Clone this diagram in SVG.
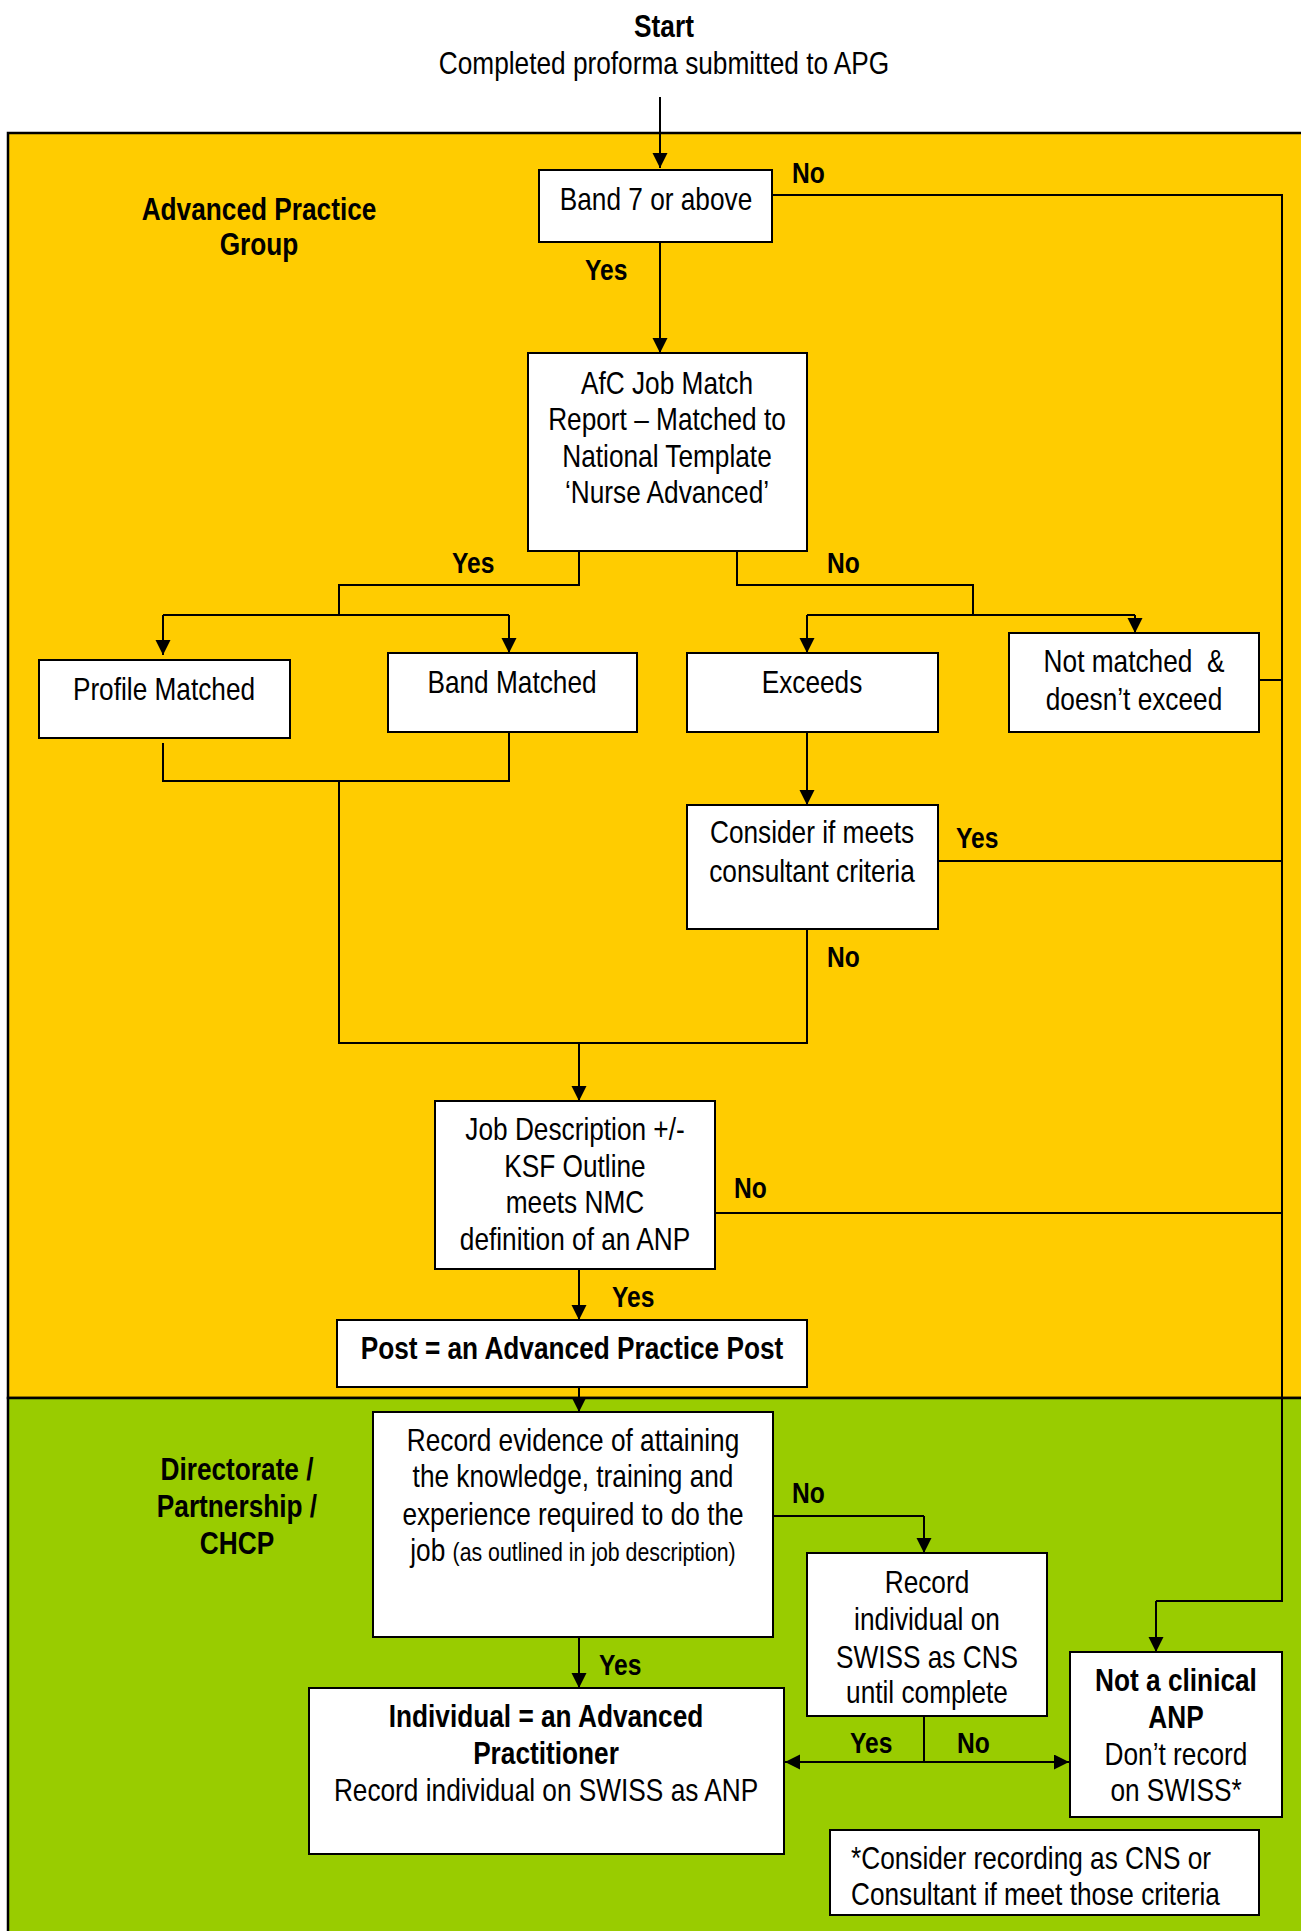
<svg xmlns="http://www.w3.org/2000/svg" width="1301" height="1931" viewBox="0 0 1301 1931">
<style>
text{font-family:"Liberation Sans",Arial,sans-serif;font-size:32px;fill:#000}
.c{text-anchor:middle}
.b{font-weight:bold}
.lbl{font-weight:bold;font-size:30px}
.sm{font-size:26px}
.box{fill:#fff;stroke:#000;stroke-width:2}
.ln{fill:none;stroke:#000;stroke-width:2}
.ar{fill:none;stroke:#000;stroke-width:2;marker-end:url(#ah)}
.pre{white-space:pre}
</style>
<defs>
<marker id="ah" markerUnits="userSpaceOnUse" markerWidth="16" markerHeight="16" refX="15" refY="7.5" orient="auto">
<path d="M0,0 L15,7.5 L0,15 z" fill="#000"/>
</marker>
</defs>
<rect width="1301" height="1931" fill="#fff"/>
<g id="panels">
<rect x="8" y="133" width="1320" height="1265" fill="#FFCC00" stroke="#000" stroke-width="2.5"/>
<rect x="8" y="1398" width="1320" height="600" fill="#99CC00" stroke="#000" stroke-width="2.5"/>
<text class="c b" transform="translate(259 220) scale(.82 1)">Advanced Practice</text>
<text class="c b" transform="translate(259 255) scale(.82 1)">Group</text>
<text class="c b" transform="translate(237 1480) scale(.82 1)">Directorate /</text>
<text class="c b" transform="translate(237 1517) scale(.82 1)">Partnership /</text>
<text class="c b" transform="translate(237 1554) scale(.82 1)">CHCP</text>
</g>
<g id="start">
<text class="c b" transform="translate(664 37) scale(.82 1)">Start</text>
<text class="c" transform="translate(664 74) scale(.82 1)">Completed proforma submitted to APG</text>
</g>
<g id="connectors">
<path class="ar" d="M660,97 V168"/>
<path class="ln" d="M772,195 H1282 V1601 H1156"/>
<path class="ar" d="M1156,1601 V1652"/>
<path class="ar" d="M660,242 V353"/>
<path class="ln" d="M579,551 V585 H339 V615 M163,615 H509"/>
<path class="ar" d="M163,615 V655"/>
<path class="ar" d="M509,615 V653"/>
<path class="ln" d="M737,551 V585 H973 V615 M807,615 H1135"/>
<path class="ar" d="M807,615 V653"/>
<path class="ar" d="M1135,615 V633"/>
<path class="ln" d="M1259,680 H1282"/>
<path class="ln" d="M163,743 V781 H509 V732 M339,781 V1043 H807 V929"/>
<path class="ar" d="M807,732 V805"/>
<path class="ln" d="M938,861 H1282"/>
<path class="ar" d="M579,1043 V1101"/>
<path class="ln" d="M715,1213 H1282"/>
<path class="ar" d="M579,1269 V1320"/>
<path class="ar" d="M579,1387 V1412"/>
<path class="ln" d="M773,1516 H924"/>
<path class="ar" d="M924,1516 V1553"/>
<path class="ar" d="M579,1637 V1688"/>
<path class="ln" d="M924,1716 V1762"/>
<path class="ar" d="M924,1762 H785"/>
<path class="ar" d="M924,1762 H1069"/>
<text class="lbl" transform="translate(792 183) scale(.82 1)">No</text>
<text class="lbl" transform="translate(585 280) scale(.82 1)">Yes</text>
<text class="lbl" transform="translate(452 573) scale(.82 1)">Yes</text>
<text class="lbl" transform="translate(827 573) scale(.82 1)">No</text>
<text class="lbl" transform="translate(956 848) scale(.82 1)">Yes</text>
<text class="lbl" transform="translate(827 967) scale(.82 1)">No</text>
<text class="lbl" transform="translate(734 1198) scale(.82 1)">No</text>
<text class="lbl" transform="translate(612 1307) scale(.82 1)">Yes</text>
<text class="lbl" transform="translate(792 1503) scale(.82 1)">No</text>
<text class="lbl" transform="translate(599 1675) scale(.82 1)">Yes</text>
<text class="lbl" transform="translate(850 1753) scale(.82 1)">Yes</text>
<text class="lbl" transform="translate(957 1753) scale(.82 1)">No</text>
</g>
<g id="band7">
<rect class="box" x="539" y="170" width="233" height="72"/>
<text class="c" transform="translate(656 210) scale(.82 1)">Band 7 or above</text>
</g>
<g id="afc">
<rect class="box" x="528" y="353" width="279" height="198"/>
<text class="c" transform="translate(667 394) scale(.82 1)">AfC Job Match</text>
<text class="c" transform="translate(667 430) scale(.82 1)">Report – Matched to</text>
<text class="c" transform="translate(667 467) scale(.82 1)">National Template</text>
<text class="c" transform="translate(667 503) scale(.82 1)">‘Nurse Advanced’</text>
</g>
<g id="profile">
<rect class="box" x="39" y="660" width="251" height="78"/>
<text class="c" transform="translate(164 700) scale(.82 1)">Profile Matched</text>
</g>
<g id="bandmatched">
<rect class="box" x="388" y="653" width="249" height="79"/>
<text class="c" transform="translate(512 693) scale(.82 1)">Band Matched</text>
</g>
<g id="exceeds">
<rect class="box" x="687" y="653" width="251" height="79"/>
<text class="c" transform="translate(812 693) scale(.82 1)">Exceeds</text>
</g>
<g id="notmatched">
<rect class="box" x="1009" y="633" width="250" height="99"/>
<text class="c pre" transform="translate(1134 672) scale(.82 1)">Not matched  &amp;</text>
<text class="c" transform="translate(1134 710) scale(.82 1)">doesn’t exceed</text>
</g>
<g id="consider">
<rect class="box" x="687" y="805" width="251" height="124"/>
<text class="c" transform="translate(812 843) scale(.82 1)">Consider if meets</text>
<text class="c" transform="translate(812 882) scale(.82 1)">consultant criteria</text>
</g>
<g id="jobdesc">
<rect class="box" x="435" y="1101" width="280" height="168"/>
<text class="c" transform="translate(575 1140) scale(.82 1)">Job Description +/-</text>
<text class="c" transform="translate(575 1177) scale(.82 1)">KSF Outline</text>
<text class="c" transform="translate(575 1213) scale(.82 1)">meets NMC</text>
<text class="c" transform="translate(575 1250) scale(.82 1)">definition of an ANP</text>
</g>
<g id="post">
<rect class="box" x="337" y="1320" width="470" height="67"/>
<text class="c b" transform="translate(572 1359) scale(.82 1)">Post = an Advanced Practice Post</text>
</g>
<g id="record">
<rect class="box" x="373" y="1412" width="400" height="225"/>
<text class="c" transform="translate(573 1451) scale(.82 1)">Record evidence of attaining</text>
<text class="c" transform="translate(573 1487) scale(.82 1)">the knowledge, training and</text>
<text class="c" transform="translate(573 1525) scale(.82 1)">experience required to do the</text>
<text class="c" transform="translate(573 1561) scale(.82 1)">job <tspan class="sm">(as outlined in job description)</tspan></text>
</g>
<g id="cns">
<rect class="box" x="807" y="1553" width="240" height="163"/>
<text class="c" transform="translate(927 1593) scale(.82 1)">Record</text>
<text class="c" transform="translate(927 1630) scale(.82 1)">individual on</text>
<text class="c" transform="translate(927 1668) scale(.82 1)">SWISS as CNS</text>
<text class="c" transform="translate(927 1703) scale(.82 1)">until complete</text>
</g>
<g id="notclinical">
<rect class="box" x="1070" y="1652" width="212" height="165"/>
<text class="c b" transform="translate(1176 1691) scale(.82 1)">Not a clinical</text>
<text class="c b" transform="translate(1176 1728) scale(.82 1)">ANP</text>
<text class="c" transform="translate(1176 1765) scale(.82 1)">Don’t record</text>
<text class="c" transform="translate(1176 1801) scale(.82 1)">on SWISS*</text>
</g>
<g id="individual">
<rect class="box" x="309" y="1688" width="475" height="166"/>
<text class="c b" transform="translate(546 1727) scale(.82 1)">Individual = an Advanced</text>
<text class="c b" transform="translate(546 1764) scale(.82 1)">Practitioner</text>
<text class="c" transform="translate(546 1801) scale(.82 1)">Record individual on SWISS as ANP</text>
</g>
<g id="footnote">
<rect class="box" x="830" y="1830" width="429" height="85"/>
<text transform="translate(851 1869) scale(.82 1)">*Consider recording as CNS or</text>
<text transform="translate(851 1905) scale(.82 1)">Consultant if meet those criteria</text>
</g>
</svg>
